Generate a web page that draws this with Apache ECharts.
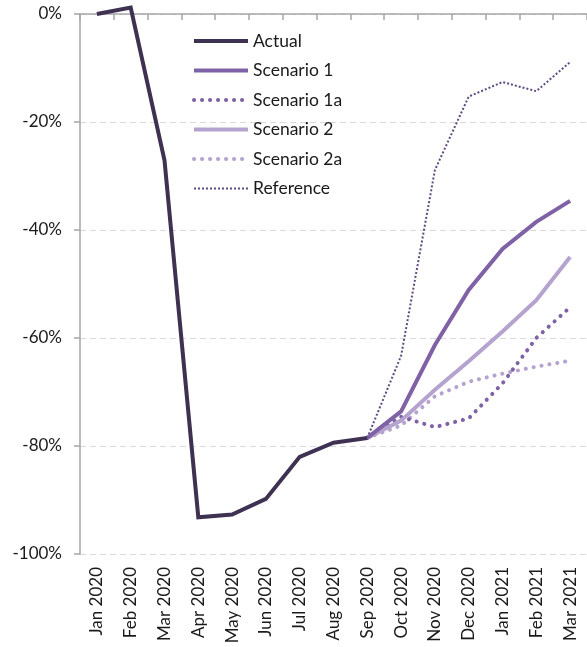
<!DOCTYPE html>
<html>
<head>
<meta charset="utf-8">
<script src="https://cdn.jsdelivr.net/npm/echarts@6/dist/echarts.min.js"></script>
<style>html,body{margin:0;padding:0;background:#fff;}#c{width:587px;height:647px;}</style>
</head>
<body>
<div id="c"></div>
<script>
const categories = ['Jan 2020','Feb 2020','Mar 2020','Apr 2020','May 2020','Jun 2020','Jul 2020','Aug 2020','Sep 2020','Oct 2020','Nov 2020','Dec 2020','Jan 2021','Feb 2021','Mar 2021'];
const actual     = [0, 1.2, -27.1, -93.2, -92.7, -89.8, -82.0, -79.4, -78.5, null, null, null, null, null, null];
const scenario1  = [null, null, null, null, null, null, null, null, -78.5, -73.6, -61.3, -51.1, -43.5, -38.5, -34.6];
const scenario1a = [null, null, null, null, null, null, null, null, -78.5, -74.6, -76.5, -74.9, -68.4, -60.0, -54.3];
const scenario2  = [null, null, null, null, null, null, null, null, -78.5, -75.3, -69.6, -64.3, -58.8, -53.0, -45.0];
const scenario2a = [null, null, null, null, null, null, null, null, -78.5, -76.2, -70.8, -68.1, -66.6, -65.3, -64.2];
const reference  = [null, null, null, null, null, null, null, null, -78.5, -63.3, -28.9, -15.3, -12.6, -14.3, -8.9];
const yTicks = { min: -100, max: 0, interval: 20 };

const FONT = 'Lato';
const chart = echarts.init(document.getElementById('c'), null, { renderer: 'canvas' });

const styles = {
  'Actual':      { color: '#3f3152', width: 4, type: 'solid', cap: 'butt' },
  'Scenario 1':  { color: '#7f62a6', width: 4, type: 'solid', cap: 'butt' },
  'Scenario 1a': { color: '#7f62a6', width: 4, type: [0.1, 7.9], cap: 'round' },
  'Scenario 2':  { color: '#b5a3cf', width: 4, type: 'solid', cap: 'butt' },
  'Scenario 2a': { color: '#b5a3cf', width: 4, type: [0.1, 7.9], cap: 'round' },
  'Reference':   { color: '#5f4a80', width: 2, type: [2, 2], cap: 'butt' }
};

function ln(name, data) {
  const s = styles[name];
  return {
    name, type: 'line', data, xAxisIndex: 0, symbol: 'none', showSymbol: false,
    connectNulls: false, animation: false, clip: false,
    lineStyle: { color: s.color, width: s.width, type: s.type, cap: s.cap, join: 'miter' },
    itemStyle: { color: s.color }
  };
}

const legendNames = ['Actual','Scenario 1','Scenario 1a','Scenario 2','Scenario 2a','Reference'];

chart.setOption({
  animation: false,
  backgroundColor: '#ffffff',
  grid: { left: 80, top: 14, width: 515, height: 540, containLabel: false },
  legend: {
    orient: 'vertical', left: 192, top: 31, padding: 0,
    itemWidth: 54, itemHeight: 14, itemGap: 9.5,
    itemStyle: { opacity: 0 },
    textStyle: { fontFamily: FONT, fontSize: 17.5, color: '#1a1a1a', lineHeight: 20 },
    data: legendNames.map(n => ({
      name: n,
      lineStyle: { width: styles[n].width, type: styles[n].type, cap: styles[n].cap, color: styles[n].color }
    }))
  },
  xAxis: [
    {
      type: 'category', data: categories, position: 'bottom', boundaryGap: true,
      axisLine: { show: false }, axisTick: { show: false }, splitLine: { show: false },
      axisLabel: { rotate: 90, interval: 0, margin: 13, fontFamily: FONT, fontSize: 17, color: '#1a1a1a' }
    },
    {
      type: 'category', data: categories, position: 'top', boundaryGap: true,
      axisLine: { show: true, lineStyle: { color: '#a6a6a6', width: 1.5 } },
      axisTick: { show: true, inside: true, length: 6, interval: 0, lineStyle: { color: '#a6a6a6', width: 1.5 } },
      axisLabel: { show: false }, splitLine: { show: false }
    }
  ],
  yAxis: {
    type: 'value', min: yTicks.min, max: yTicks.max, interval: yTicks.interval,
    axisLine: { show: true, lineStyle: { color: '#a6a6a6', width: 1.5 } },
    axisTick: { show: true, length: 6, lineStyle: { color: '#a6a6a6', width: 1.5 } },
    axisLabel: { formatter: '{value}%', margin: 18, fontFamily: FONT, fontSize: 17, color: '#1a1a1a' },
    splitLine: { show: true, lineStyle: { color: '#d9d9d9', type: [6, 4], width: 1 } }
  },
  series: [
    ln('Reference', reference),
    ln('Scenario 2a', scenario2a),
    ln('Scenario 1a', scenario1a),
    ln('Scenario 2', scenario2),
    ln('Scenario 1', scenario1),
    ln('Actual', actual)
  ]
});
</script>
</body>
</html>
